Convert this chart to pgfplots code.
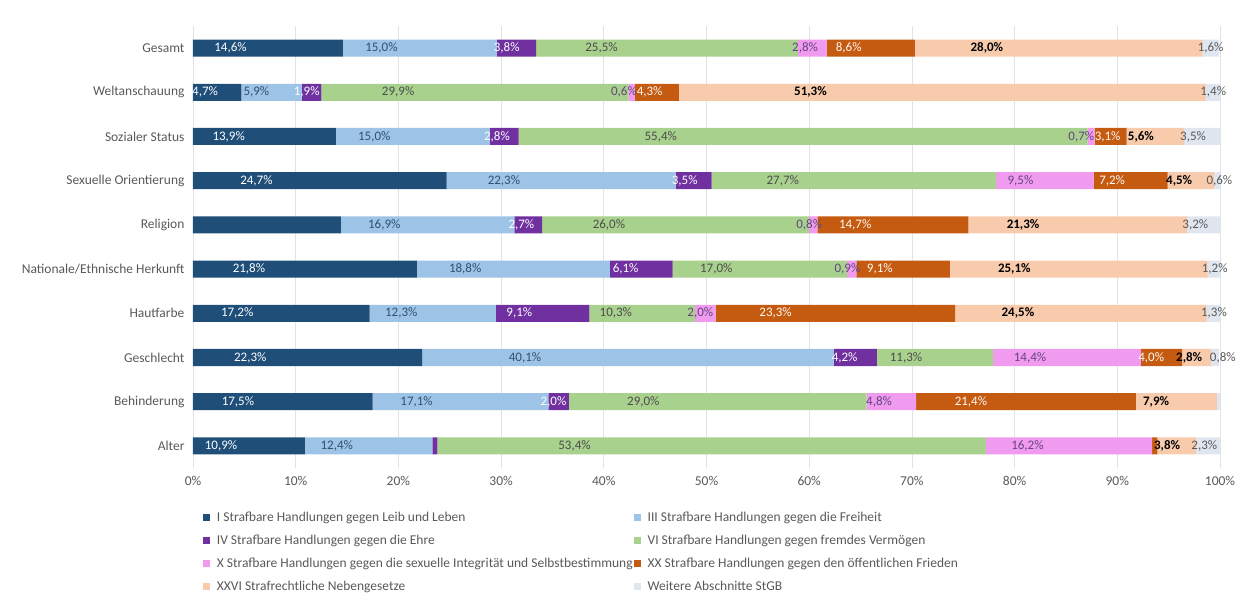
\documentclass[border=0pt]{standalone}
\usepackage{fontspec}
\setmainfont{Carlito}
\usepackage{pgfplots}
\usepackage{pgfplotstable}
\pgfplotsset{compat=1.18}

\definecolor{cI}{HTML}{1F4E79}
\definecolor{cIII}{HTML}{9DC3E6}
\definecolor{cIV}{HTML}{7030A0}
\definecolor{cVI}{HTML}{A9D18E}
\definecolor{cX}{HTML}{F09BF0}
\definecolor{cXX}{HTML}{C55A11}
\definecolor{cXXVI}{HTML}{F8CBAD}
\definecolor{cW}{HTML}{DFE6EF}
\definecolor{gridgray}{HTML}{E3E3E3}
\definecolor{labgray}{HTML}{595959}

\pgfplotstableread{
y v l
0 14.6 14,6\%
1 4.7 4,7\%
2 13.9 13,9\%
3 24.7 24,7\%
4 14.4 {}
5 21.8 21,8\%
6 17.2 17,2\%
7 22.3 22,3\%
8 17.5 17,5\%
9 10.9 10,9\%
}\tI
\pgfplotstableread{
y v l
0 15.0 15,0\%
1 5.9 5,9\%
2 15.0 15,0\%
3 22.3 22,3\%
4 16.9 16,9\%
5 18.8 18,8\%
6 12.3 12,3\%
7 40.1 40,1\%
8 17.1 17,1\%
9 12.4 12,4\%
}\tIII
\pgfplotstableread{
y v l
0 3.8 3,8\%
1 1.9 1,9\%
2 2.8 2,8\%
3 3.5 3,5\%
4 2.7 2,7\%
5 6.1 6,1\%
6 9.1 9,1\%
7 4.2 4,2\%
8 2.0 2,0\%
9 0.5 {}
}\tIV
\pgfplotstableread{
y v l
0 25.5 25,5\%
1 29.9 29,9\%
2 55.4 55,4\%
3 27.7 27,7\%
4 26.0 26,0\%
5 17.0 17,0\%
6 10.3 10,3\%
7 11.3 11,3\%
8 29.0 29,0\%
9 53.4 53,4\%
}\tVI
\pgfplotstableread{
y v l dx
0 2.8 2,8\% 0
1 0.6 0,6\% -6
2 0.7 0,7\% -8
3 9.5 9,5\% 0
4 0.8 0,8\% -2
5 0.9 0,9\% -2
6 2.0 2,0\% 0
7 14.4 14,4\% 0
8 4.8 4,8\% 0
9 16.2 16,2\% 0
}\tX
\pgfplotstableread{
y v l dx
0 8.6 8,6\% 0
1 4.3 4,3\% 4
2 3.1 3,1\% 5
3 7.2 7,2\% 0
4 14.7 14,7\% 0
5 9.1 9,1\% 0
6 23.3 23,3\% 0
7 4.0 4,0\% 0
8 21.4 21,4\% 0
9 0.5 {} 0
}\tXX
\pgfplotstableread{
y v l
0 28.0 28,0\%
1 51.3 51,3\%
2 5.6 5,6\%
3 4.5 4,5\%
4 21.3 21,3\%
5 25.1 25,1\%
6 24.5 24,5\%
7 2.8 2,8\%
8 7.9 7,9\%
9 3.8 3,8\%
}\tXXVI
\pgfplotstableread{
y v l dx
0 1.6 1,6\% 4
1 1.4 1,4\% 4
2 3.5 3,5\% 0
3 0.6 0,6\% 4
4 3.2 3,2\% 0
5 1.2 1,2\% 4
6 1.3 1,3\% 4
7 0.8 0,8\% 10
8 0.4 0,4\% 6
9 2.3 2,3\% 2
}\tW

\pgfplotsset{
  sq/.style={legend image code/.code={\fill[##1] (0pt,-3.5pt) rectangle (7pt,3.5pt);}},
  lab/.style={every node near coord/.append style={text=#1}},
  dxshift/.style={visualization depends on={\thisrow{dx} \as \dxval},
    every node near coord/.append style={xshift=\dxval pt}},
}

\begin{document}
\begin{tikzpicture}
\begin{axis}[
  at={(0,0)}, anchor=south west,
  scale only axis, width=1027pt, height=442pt,
  xbar stacked, bar width=17pt,
  xmin=0, xmax=100, ymin=-0.5, ymax=9.5, y dir=reverse,
  ytick={0,...,9},
  yticklabels={Gesamt,Weltanschauung,Sozialer Status,Sexuelle Orientierung,Religion,Nationale/Ethnische Herkunft,Hautfarbe,Geschlecht,Behinderung,Alter},
  xtick={0,10,...,100},
  xticklabel={\pgfmathprintnumber{\tick}\%},
  /pgf/number format/assume math mode=true,
  xmajorgrids, major grid style={draw=gridgray, line width=0.8pt},
  axis line style={draw=none},
  major tick length=0pt,
  tick label style={font=\fontsize{13.5}{16}\selectfont, text=labgray},
  yticklabel style={xshift=-5pt},
  xticklabel style={yshift=-5pt},
  point meta=explicit symbolic,
  nodes near coords,
  visualization depends on={\thisrow{v} \as \segval},
  every node near coord/.append style={anchor=center, inner sep=0pt, font=\fontsize{13}{15}\selectfont, shift={(axis direction cs:-\segval/4,0)}},
  legend columns=2,
  legend cell align=left,
  legend style={at={(0.007,-0.09)}, anchor=north west, draw=none, fill=none,
    font=\fontsize{13.5}{16}\selectfont, text=labgray,
    nodes={inner xsep=1.5pt},
    /tikz/every odd column/.append style={column sep=5pt}, row sep=8pt},
]
\addplot[fill=cI, draw=none, sq, lab=white] table[x=v, y=y, meta=l] {\tI};
\addlegendentry{I Strafbare Handlungen gegen Leib und Leben}
\addplot[fill=cIII, draw=none, sq, lab={cI!70!labgray}] table[x=v, y=y, meta=l] {\tIII};
\addlegendentry{III Strafbare Handlungen gegen die Freiheit}
\addplot[fill=cIV, draw=none, sq, lab=white] table[x=v, y=y, meta=l] {\tIV};
\addlegendentry{IV Strafbare Handlungen gegen die Ehre}
\addplot[fill=cVI, draw=none, sq, lab={black!70}] table[x=v, y=y, meta=l] {\tVI};
\addlegendentry{VI Strafbare Handlungen gegen fremdes Vermögen}
\addplot[fill=cX, draw=none, sq, lab={cIV!50!labgray}, dxshift] table[x=v, y=y, meta=l] {\tX};
\addlegendentry{X Strafbare Handlungen gegen die sexuelle Integrität und Selbstbestimmung}
\addplot[fill=cXX, draw=none, sq, lab={white!90!cXXVI}, dxshift] table[x=v, y=y, meta=l] {\tXX};
\addlegendentry{XX Strafbare Handlungen gegen den öffentlichen Frieden}
\addplot[fill=cXXVI, draw=none, sq, lab=black, every node near coord/.append style={font=\fontsize{13}{15}\selectfont\bfseries}] table[x=v, y=y, meta=l] {\tXXVI};
\addlegendentry{XXVI Strafrechtliche Nebengesetze}
\addplot[fill=cW, draw=none, sq, lab=labgray, dxshift] table[x=v, y=y, meta=l] {\tW};
\addlegendentry{Weitere Abschnitte StGB}
\end{axis}
\path (-193pt,-133pt) rectangle (1060pt,468pt);
\end{tikzpicture}
\end{document}
